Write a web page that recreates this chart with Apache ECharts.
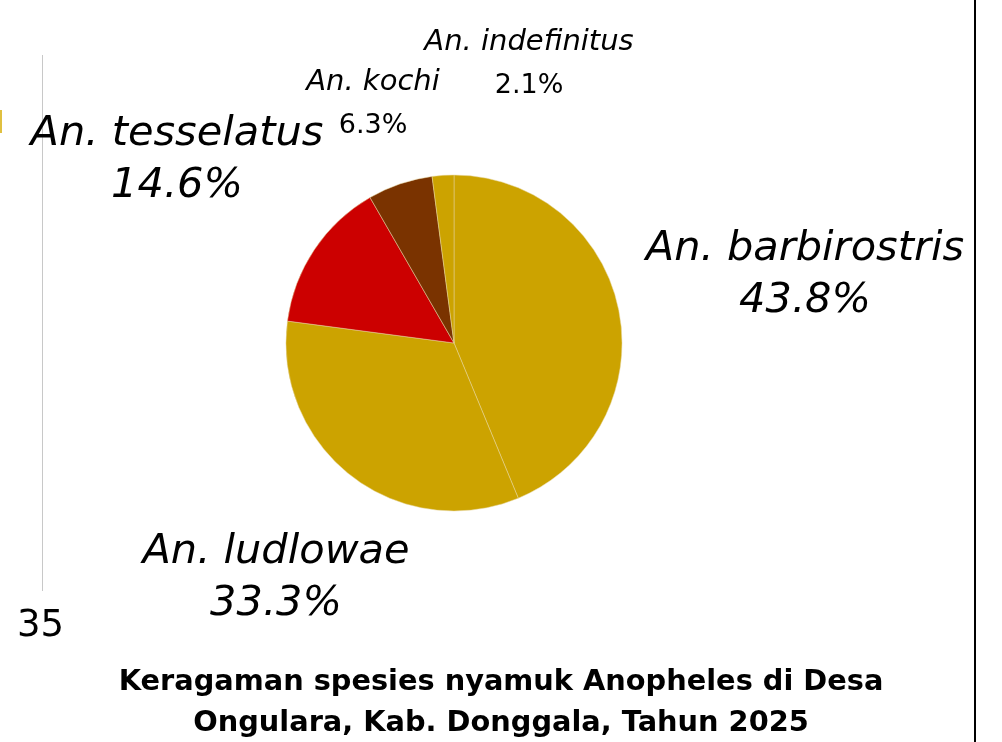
<!DOCTYPE html>
<html>
<head>
<meta charset="utf-8">
<script src="https://cdn.jsdelivr.net/npm/echarts@6/dist/echarts.min.js"></script>
<style>
  html, body { margin: 0; padding: 0; background: #fff; }
  #chart { width: 1002px; height: 742px; }
</style>
</head>
<body>
<div id="chart"></div>
<script>
// species and specimen counts (percentages: 43.8, 33.3, 14.6, 6.3, 2.1)
const species = ['An. barbirostris', 'An. ludlowae', 'An. tesselatus', 'An. kochi', 'An. indefinitus'];
const counts = [21, 16, 7, 3, 1];
const colors = ['#CCA300', '#CCA300', '#CC0000', '#7A3300', '#CCA300'];
const titleLines = ['Keragaman spesies nyamuk Anopheles di Desa', 'Ongulara, Kab. Donggala, Tahun 2025'];

const total = counts.reduce((a, b) => a + b, 0);
const font = '"DejaVu Sans", sans-serif';

// label centres, by slice index
const labelPos = [
  { x: 805, y: 275, big: true },
  { x: 276, y: 578, big: true },
  { x: 177, y: 160, big: true },
  { x: 373, y: 104, big: false },
  { x: 529, y: 64, big: false }
];

const chart = echarts.init(document.getElementById('chart'), null, { renderer: 'canvas' });

chart.setOption({
  animation: false,
  title: {
    text: titleLines.join('\n'),
    left: 'center',
    top: 657,
    textStyle: {
      fontFamily: font,
      fontWeight: 'bold',
      fontSize: 28.8,
      lineHeight: 41,
      color: '#000'
    }
  },
  graphic: [
    { type: 'line', shape: { x1: 42.5, y1: 55, x2: 42.5, y2: 591 }, style: { stroke: '#c8c8c8', lineWidth: 1 } },
    { type: 'text', left: 17, top: 608, style: { text: '35', font: '37px ' + font, fill: '#000' } },
    { type: 'rect', shape: { x: 0, y: 110, width: 2, height: 23 }, style: { fill: '#E0C040' } },
    { type: 'line', shape: { x1: 975, y1: 0, x2: 975, y2: 742 }, style: { stroke: '#000', lineWidth: 2 } }
  ],
  series: [{
    type: 'pie',
    center: [454, 343],
    radius: 168,
    startAngle: 90,
    clockwise: true,
    itemStyle: { borderColor: '#e6d7a0', borderWidth: 0.5 },
    labelLine: { show: false },
    emphasis: { disabled: true },
    label: {
      show: true,
      position: 'outside',
      overflow: 'none',
      formatter: p => {
        const pct = (p.value / total * 100).toFixed(1) + '%';
        return labelPos[p.dataIndex].big
          ? '{bn|' + p.name + '}\n{bp|' + pct + '}'
          : '{sn|' + p.name + '}\n{sp|' + pct + '}';
      },
      rich: {
        bn: { fontFamily: font, fontStyle: 'italic', fontSize: 41.5, lineHeight: 52, color: '#000', align: 'center' },
        bp: { fontFamily: font, fontStyle: 'italic', fontSize: 41.5, lineHeight: 52, color: '#000', align: 'center' },
        sn: { fontFamily: font, fontStyle: 'italic', fontSize: 29, lineHeight: 44, color: '#000', align: 'center' },
        sp: { fontFamily: font, fontSize: 27, lineHeight: 44, color: '#000', align: 'center' }
      }
    },
    labelLayout: params => {
      const lp = labelPos[params.dataIndex];
      return { x: lp.x, y: lp.y, align: 'center', verticalAlign: 'middle', hideOverlap: false, moveOverlap: null };
    },
    data: species.map((name, i) => ({ name: name, value: counts[i], itemStyle: { color: colors[i] } }))
  }]
});
</script>
</body>
</html>
